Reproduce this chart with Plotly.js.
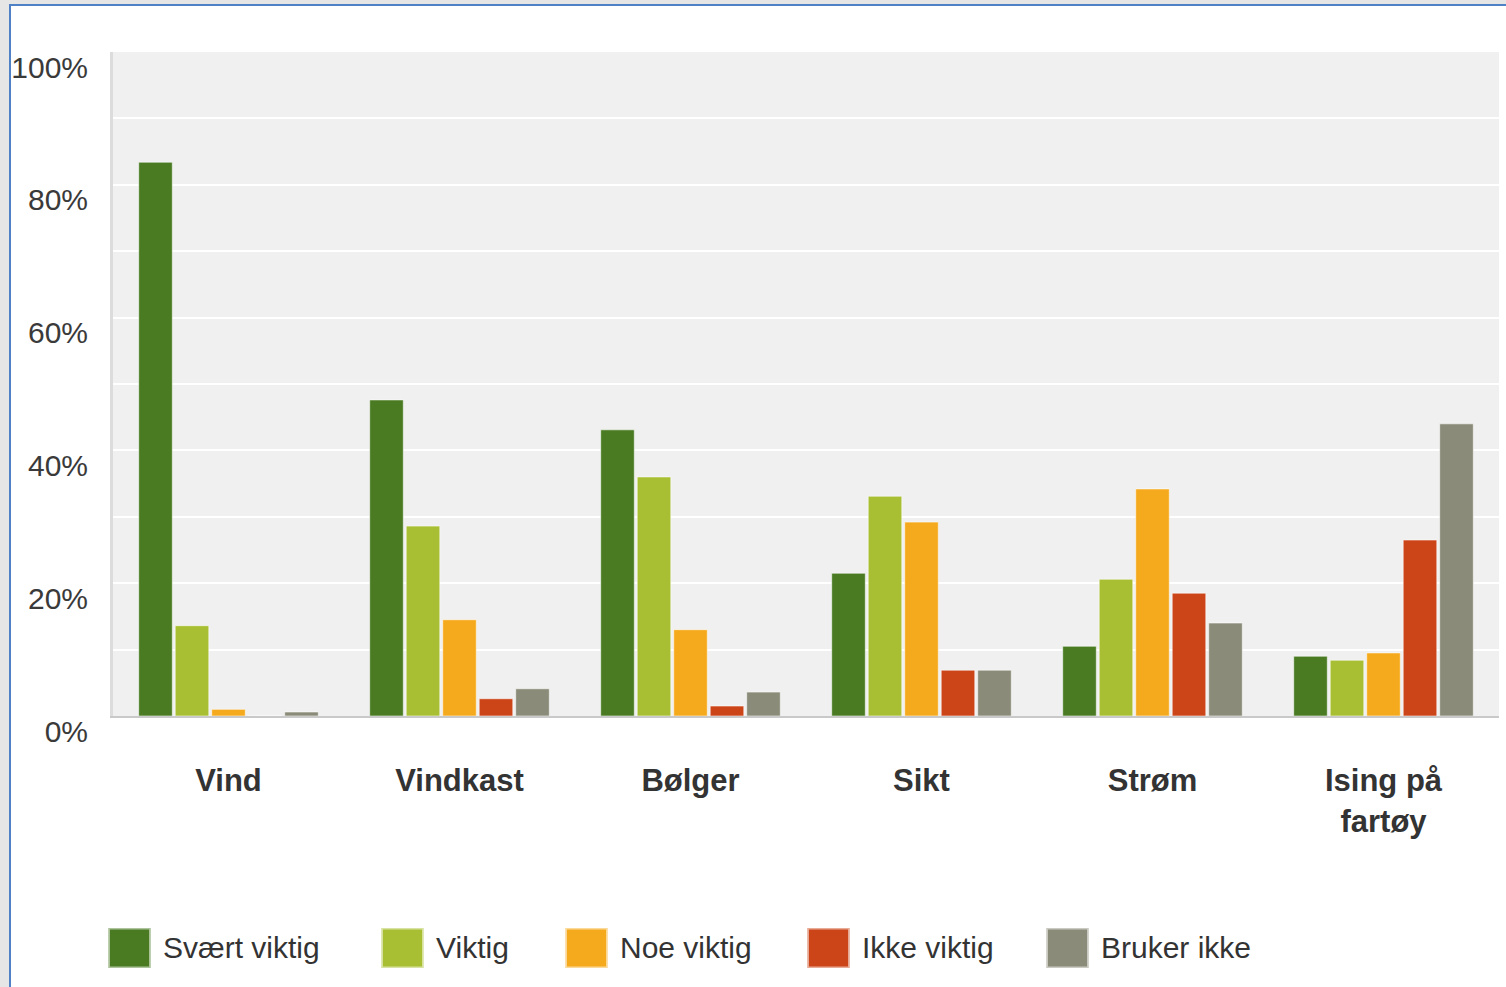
<!DOCTYPE html>
<html>
<head>
<meta charset="utf-8">
<script src="https://cdn.plot.ly/plotly-3.0.1.min.js"></script>
<style>
  html, body { margin:0; padding:0; width:1506px; height:987px; overflow:hidden; background:#e6e6e6; }
  #frame { position:absolute; left:9px; top:4px; width:1497px; height:983px; background:#fff;
           border-left:2px solid #4f81c7; border-top:2px solid #4f81c7; box-sizing:border-box; }
  #chart { position:absolute; left:0; top:0; width:1506px; height:987px; }
</style>
</head>
<body>
<div id="frame"></div>
<div id="chart"></div>
<script>
const categories = ["Vind", "Vindkast", "Bølger", "Sikt", "Strøm", "Ising på<br>fartøy"];
const seriesNames = ["Svært viktig", "Viktig", "Noe viktig", "Ikke viktig", "Bruker ikke"];
const svaertViktig = [83.4, 47.6, 43.1, 21.5, 10.5, 9.0];
const viktig       = [13.6, 28.6, 36.0, 33.1, 20.6, 8.4];
const noeViktig    = [1.0, 14.5, 13.0, 29.2, 34.2, 9.5];
const ikkeViktig   = [0.0, 2.6, 1.5, 6.9, 18.5, 26.5];
const brukerIkke   = [0.6, 4.1, 3.6, 6.9, 14.0, 44.0];
const colors = ["#4a7b22", "#a9bf33", "#f5aa1e", "#cc4518", "#8b8b79"];
const yTickVals = [0, 20, 40, 60, 80, 100];
const yTickText = ["0%", "20%", "40%", "60%", "80%", "100%"];

const W = 1506, H = 987;
const M = { l: 113, r: 7, t: 52, b: 271 };
const pw = W - M.l - M.r, ph = H - M.t - M.b;
// legend entry left edges (page px) and vertical centre
const legendLeft = [108, 381, 565, 807, 1046];
const legendMidY = 946;

const seriesValues = [svaertViktig, viktig, noeViktig, ikkeViktig, brukerIkke];
const font = "'Liberation Sans', Arial, sans-serif";

const traces = seriesNames.map((name, i) => ({
  type: "bar",
  name: name,
  x: categories,
  y: seriesValues[i],
  legend: i === 0 ? "legend" : "legend" + (i + 1),
  marker: { color: colors[i], line: { color: "rgba(255,255,255,0.55)", width: 1 } },
  hoverinfo: "skip"
}));

const layout = {
  width: W, height: H,
  margin: M,
  paper_bgcolor: "rgba(0,0,0,0)",
  plot_bgcolor: "#f0f0f0",
  barmode: "group",
  bargap: 0.21,
  bargroupgap: 0.08,
  showlegend: true,
  xaxis: {
    type: "category",
    range: [-0.5, 5.5],
    showgrid: false,
    showline: true, linecolor: "#c9c9c9", linewidth: 2,
    ticks: "",
    ticklabelstandoff: 36,
    tickfont: { family: font, size: 31, color: "#333", weight: "bold" }
  },
  yaxis: {
    range: [0, 100],
    tickvals: yTickVals,
    ticktext: yTickText,
    showgrid: true, gridcolor: "#ffffff", gridwidth: 2,
    minor: { dtick: 10, showgrid: true, gridcolor: "#ffffff", gridwidth: 2 },
    zeroline: false,
    showline: true, linecolor: "#dcdcdc", linewidth: 3,
    ticks: "",
    ticklabelstandoff: 16,
    ticklabelshift: 15,
    tickfont: { family: font, size: 30, color: "#3a3a3a" }
  }
};
seriesNames.forEach((n, i) => {
  const key = i === 0 ? "legend" : "legend" + (i + 1);
  layout[key] = {
    orientation: "h",
    x: (legendLeft[i] - M.l) / pw, xanchor: "left",
    y: -(legendMidY - (M.t + ph)) / ph, yanchor: "middle",
    font: { family: font, size: 30, color: "#333" },
    itemwidth: 45,
    bgcolor: "rgba(0,0,0,0)"
  };
});

Plotly.newPlot("chart", traces, layout, { displayModeBar: false, staticPlot: true }).then(() => {
  document.querySelectorAll("#chart .infolayer [clip-path]").forEach(el => {
    el.removeAttribute("clip-path");
  });
  document.querySelectorAll("#chart .legendpoints path").forEach(p => {
    p.setAttribute("transform", "translate(21.5,2) scale(3.55,3.35)");
  });
});
</script>
</body>
</html>
